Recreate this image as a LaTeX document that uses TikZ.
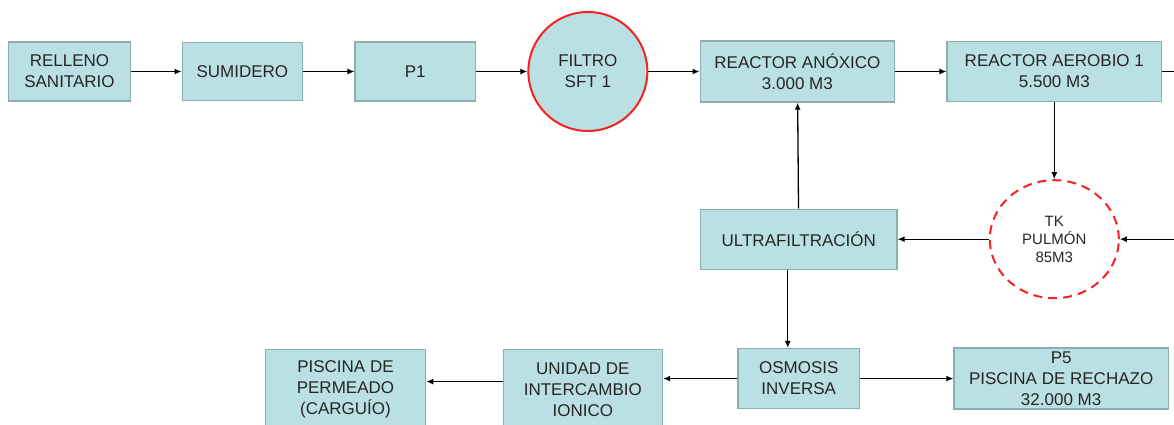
\documentclass[tikz,border=0pt]{standalone}
\usepackage{fontspec}
\setmainfont{Liberation Sans}
\usetikzlibrary{arrows.meta,positioning,shapes.geometric}
\definecolor{aqua}{HTML}{BAE0E4}
\definecolor{edge}{HTML}{8DAEB0}
\definecolor{alarm}{HTML}{F52222}
\definecolor{ink}{HTML}{262626}
\tikzset{
  unit/.style={draw=edge, line width=1.4pt, fill=aqua, align=center,
    text=ink, font=\fontsize{17}{21}\selectfont, inner sep=2pt},
  flow/.style={-{Latex[length=7pt,width=6pt]}, line width=1.3pt, draw=black},
  tank/.style={circle, draw=alarm, line width=2pt, fill=aqua, align=center,
    text=ink, font=\fontsize{17}{21}\selectfont, minimum size=119pt}
}
\begin{document}
\begin{tikzpicture}[node distance=51.2pt]
  \clip (0,0) rectangle (1174pt,-425pt);
  \node[unit,minimum width=122.3pt,minimum height=59pt] (relleno) at (69.5pt,-71.5pt)
    {RELLENO\\SANITARIO};
  \node[unit,right=50.2pt of relleno,minimum width=120.3pt,minimum height=58pt] (sumidero) {SUMIDERO};
  \node[unit,right=of sumidero,minimum width=120.3pt,minimum height=59pt] (p1) {P1};
  \node[tank,right=of p1] (filtro) {FILTRO\\SFT 1};
  \node[unit,right=of filtro,minimum width=194.3pt,minimum height=61pt] (anoxico)
    {REACTOR ANÓXICO\\3.000 M3};
  \node[unit,right=of anoxico,minimum width=214.3pt,minimum height=60pt] (aerobio)
    {REACTOR AEROBIO 1\\5.500 M3};

  \node[ellipse,below=77pt of aerobio,minimum width=129pt,minimum height=118pt,
    draw=alarm,line width=2pt,dash pattern=on 9pt off 6pt,fill=white,align=center,
    text=ink,font=\fontsize{15}{18}\selectfont] (pulmon) {TK\\PULMÓN\\85M3};
  \node[unit,left=91.2pt of pulmon,minimum width=196.3pt,minimum height=60pt] (ultra)
    {ULTRAFILTRACIÓN};

  \node[unit,below=78pt of ultra,minimum width=121.3pt,minimum height=60pt] (osmosis)
    {OSMOSIS\\INVERSA};
  \node[unit,right=93.2pt of osmosis,minimum width=214.3pt,minimum height=61pt] (rechazo)
    {P5\\PISCINA DE RECHAZO\\32.000 M3};
  \node[unit,left=74.2pt of osmosis,yshift=-11pt,minimum width=159.3pt,minimum height=80pt] (intercambio)
    {UNIDAD DE\\INTERCAMBIO\\IONICO};
  \node[unit,left=76.2pt of intercambio,minimum width=160.3pt,minimum height=80pt] (permeado)
    {PISCINA DE\\PERMEADO\\(CARGUÍO)};

  \coordinate[right=12pt of aerobio.east] (aeroout);
  \coordinate[right=54pt of pulmon.east] (pulmonin);

  \draw[flow] (relleno) -- (sumidero);
  \draw[flow] (sumidero) -- (p1);
  \draw[flow] (p1) -- (filtro);
  \draw[flow] (filtro) -- (filtro -| anoxico.west);
  \draw[flow] (anoxico.east |- filtro) -- (aerobio.west |- filtro);
  \draw[line width=1.3pt] (aerobio.east |- filtro) -- (aeroout |- filtro);
  \draw[flow] (aerobio) -- (pulmon);
  \draw[flow] (pulmonin) -- (pulmon.east);
  \draw[flow] (pulmon) -- (ultra);
  \draw[flow] (ultra) -- (anoxico);
  \draw[flow] ([xshift=-11pt]ultra.south) -- ([xshift=-11pt]osmosis.north);
  \draw[flow] (osmosis) -- (rechazo);
  \draw[flow] (osmosis.west) -- (osmosis.west -| intercambio.east);
  \draw[flow] ([yshift=8pt]intercambio.west) -- ([yshift=8pt]permeado.east);
\end{tikzpicture}
\end{document}
